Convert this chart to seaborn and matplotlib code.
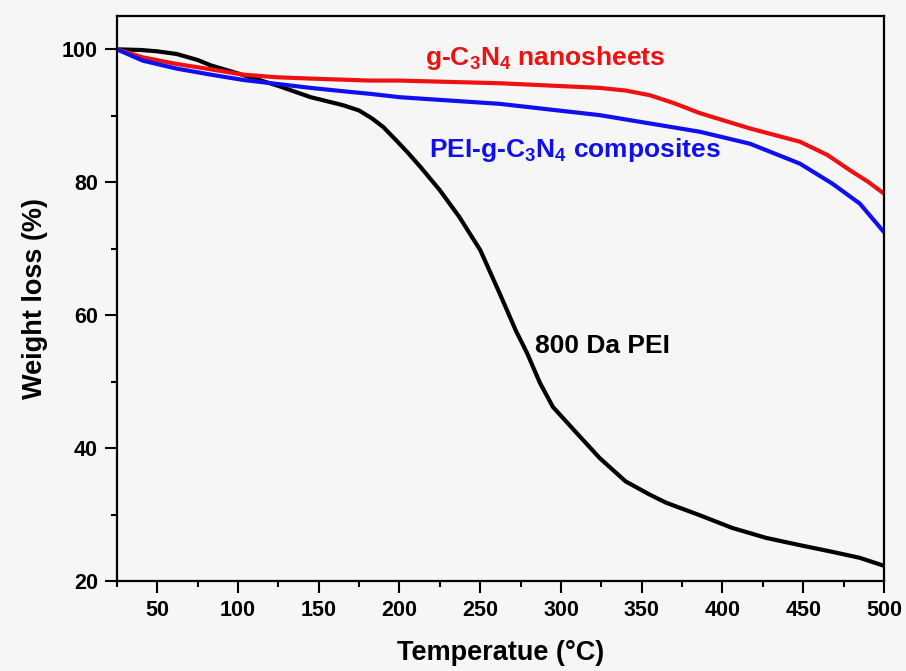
import matplotlib
matplotlib.use("Agg")
import matplotlib.pyplot as plt
import seaborn as sns
import pandas as pd
from matplotlib.ticker import MultipleLocator

# ---- data ----
pei_T = [25, 40, 50, 62, 75, 83, 101, 125, 145, 165, 175, 183, 190, 198, 205, 213,
         225, 237, 250, 262, 272, 279, 287, 295, 310, 324, 340, 355, 365, 386, 406,
         427, 448, 468, 485, 500]
pei_W = [100, 99.9, 99.7, 99.3, 98.4, 97.6, 96.3, 94.5, 92.8, 91.6, 90.8, 89.6, 88.3,
         86.3, 84.5, 82.3, 78.8, 74.8, 69.8, 63.3, 57.7, 54.3, 49.8, 46.2, 42.2, 38.5,
         35.0, 33.0, 31.8, 29.9, 28.0, 26.5, 25.4, 24.4, 23.5, 22.3]

cn_T = [25, 41, 62, 83, 103, 124, 145, 182, 200, 262, 324, 340, 355, 370, 386, 417,
        448, 465, 479, 490, 500]
cn_W = [100, 98.8, 97.8, 97.0, 96.2, 95.8, 95.6, 95.3, 95.3, 94.9, 94.2, 93.8, 93.1,
        91.9, 90.4, 88.1, 86.1, 84.1, 81.8, 80.1, 78.3]

comp_T = [25, 41, 62, 83, 103, 124, 145, 165, 182, 200, 262, 324, 386, 417, 448, 468,
          485, 500]
comp_W = [100, 98.3, 97.1, 96.2, 95.4, 94.8, 94.2, 93.7, 93.3, 92.8, 91.8, 90.1, 87.6,
          85.8, 82.8, 79.8, 76.8, 72.5]

series_names = ["800 Da PEI", "g-C3N4 nanosheets", "PEI-g-C3N4 composites"]
series_colors = ["#000000", "#ee1111", "#1010ee"]

x_ticks = [50, 100, 150, 200, 250, 300, 350, 400, 450, 500]
y_ticks = [20, 40, 60, 80, 100]

df = pd.concat([
    pd.DataFrame({"T": pei_T, "W": pei_W, "s": series_names[0]}),
    pd.DataFrame({"T": cn_T, "W": cn_W, "s": series_names[1]}),
    pd.DataFrame({"T": comp_T, "W": comp_W, "s": series_names[2]}),
])

sns.set_theme(style="ticks")
plt.rcParams["font.family"] = ["Liberation Sans", "DejaVu Sans"]
plt.rcParams["mathtext.fontset"] = "custom"
plt.rcParams["mathtext.rm"] = "Liberation Sans"
plt.rcParams["mathtext.bf"] = "Liberation Sans:bold"
plt.rcParams["text.color"] = "black"
plt.rcParams["axes.labelcolor"] = "black"
plt.rcParams["xtick.color"] = "black"
plt.rcParams["ytick.color"] = "black"

bg = "#f6f6f6"
fig = plt.figure(figsize=(9.06, 6.71), dpi=100, facecolor=bg)
ax = fig.add_axes([0.129, 0.134, 0.8467, 0.842])
ax.set_facecolor(bg)

sns.lineplot(data=df, x="T", y="W", hue="s", palette=dict(zip(series_names, series_colors)),
             hue_order=series_names, sort=False, estimator=None, linewidth=3.0,
             legend=False, ax=ax)

ax.set_xlim(25, 500)
ax.set_ylim(20, 105)
ax.set_xticks(x_ticks)
ax.set_yticks(y_ticks)
ax.xaxis.set_minor_locator(MultipleLocator(25))
ax.yaxis.set_minor_locator(MultipleLocator(10))
ax.tick_params(which="major", direction="out", length=8.5, width=1.5, pad=5,
               labelsize=15.5, top=False, right=False, colors="black")
ax.tick_params(which="minor", direction="out", length=4.5, width=1.5, top=False,
               right=False, colors="black")
for lab in ax.get_xticklabels() + ax.get_yticklabels():
    lab.set_fontweight("bold")
for sp in ax.spines.values():
    sp.set_visible(True)
    sp.set_linewidth(1.6)
    sp.set_color("black")

ax.set_xlabel("Temperatue (°C)", fontsize=19.5, fontweight="bold", labelpad=14)
ax.set_ylabel("Weight loss (%)", fontsize=19.5, fontweight="bold", labelpad=10)

ax.text(215.7, 97.6, r"g-C$_\mathbf{3}$N$_\mathbf{4}$ nanosheets", color=series_colors[1],
        fontsize=19, fontweight="bold", ha="left", va="baseline")
ax.text(218, 83.8, r"PEI-g-C$_\mathbf{3}$N$_\mathbf{4}$ composites", color=series_colors[2],
        fontsize=19, fontweight="bold", ha="left", va="baseline")
ax.text(283.8, 54.3, "800 Da PEI", color="black",
        fontsize=19, fontweight="bold", ha="left", va="baseline")

fig.savefig("out.png", dpi=100, facecolor=bg)
